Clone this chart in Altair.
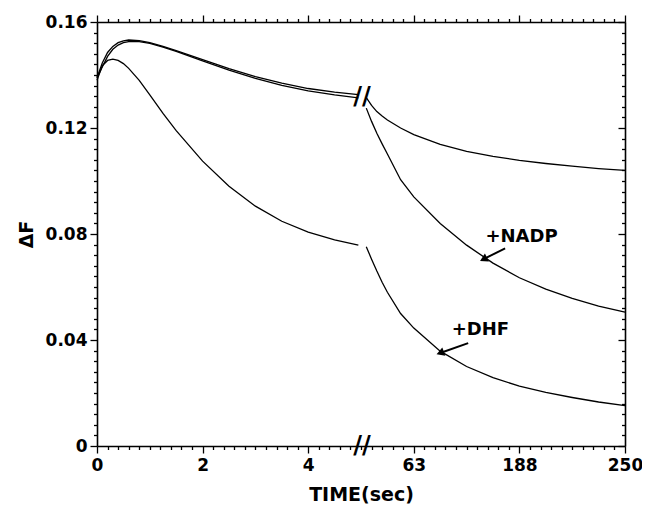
import altair as alt
import pandas as pd

# ---- data (x in display units: 0-5 = seconds, 6/8/10 = 63/188/250 s) ----
left_u = [0, 0.1, 0.2, 0.3, 0.4, 0.5, 0.6, 0.8, 1.0, 1.25, 1.5, 2.0, 2.5, 3.0, 3.5, 4.0, 4.5, 4.95]
ctrl1_left = [0.139, 0.1445, 0.1485, 0.1508, 0.1522, 0.1529, 0.1532, 0.1530, 0.1522, 0.1508, 0.1492,
              0.1458, 0.1424, 0.1394, 0.1369, 0.1349, 0.1335, 0.1326]
ctrl2_left = [0.139, 0.1430, 0.1470, 0.1497, 0.1513, 0.1522, 0.1526, 0.1526, 0.1519, 0.1505, 0.1489,
              0.1453, 0.1418, 0.1387, 0.1361, 0.1340, 0.1325, 0.1314]
low_left = [0.138, 0.1435, 0.1455, 0.1460, 0.1455, 0.1443, 0.1425, 0.1380, 0.1325, 0.1255, 0.1190,
            0.1075, 0.0980, 0.0905, 0.0848, 0.0807, 0.0778, 0.0758]

right_u = [5.1, 5.2, 5.3, 5.4, 5.5, 5.75, 6.0, 6.5, 7.0, 7.5, 8.0, 8.5, 9.0, 9.5, 10.0]
top_right = [0.1315, 0.1285, 0.1262, 0.1245, 0.1230, 0.1200, 0.1175, 0.1138, 0.1112, 0.1093, 0.1078,
             0.1066, 0.1056, 0.1047, 0.1040]
nadp_right = [0.1275, 0.1225, 0.1180, 0.1140, 0.1102, 0.1005, 0.0940, 0.0840, 0.0758, 0.0690, 0.0635,
              0.0592, 0.0557, 0.0528, 0.0505]
dhf_right = [0.0752, 0.0705, 0.0660, 0.0618, 0.0580, 0.0500, 0.0445, 0.0358, 0.0300, 0.0258, 0.0226,
             0.0202, 0.0183, 0.0166, 0.0152]

x_tick_pos = [0, 2, 4, 6, 8, 10]
x_tick_labels = ["0", "2", "4", "63", "188", "250"]
y_tick_pos = [0, 0.04, 0.08, 0.12, 0.16]
y_tick_labels = ["0", "0.04", "0.08", "0.12", "0.16"]

ann_text = ["+NADP", "+DHF"]
ann_u = [8.04, 7.26]
ann_v = [0.0788, 0.0437]
arrow_u0 = [7.73, 7.03]
arrow_v0 = [0.0746, 0.0388]
arrow_u1 = [7.32, 6.50]
arrow_v1 = [0.0705, 0.0351]
arrow_angle = [243, 250]

break_u = [5.02, 5.02]
break_v = [0.1318, 0.0]

# ---- tables ----
rows = []
for name, us, vs in [("c1", left_u, ctrl1_left), ("c2", left_u, ctrl2_left), ("low", left_u, low_left),
                     ("top", right_u, top_right), ("nadp", right_u, nadp_right), ("dhf", right_u, dhf_right)]:
    for u, v in zip(us, vs):
        rows.append({"curve": name, "u": u, "v": v})
df = pd.DataFrame(rows)

ann = pd.DataFrame({"t": ann_text, "u": ann_u, "v": ann_v, "u0": arrow_u0, "v0": arrow_v0,
                    "u1": arrow_u1, "v1": arrow_v1, "ang": arrow_angle})
brk = pd.DataFrame({"u": break_u, "v": break_v})

FONT = "DejaVu Sans"
W, H = 528, 424

x_minor = [round(i * 0.2, 1) for i in range(51)]
y_minor = [round(i * 0.004, 3) for i in range(41)]

x_major_test = "abs(datum.value/2 - round(datum.value/2)) < 0.001"
y_major_test = "abs(datum.value/0.04 - round(datum.value/0.04)) < 0.001"

x_label_expr = " : ".join(
    [f"abs(datum.value - {p}) < 0.001 ? '{l}'" for p, l in zip(x_tick_pos, x_tick_labels)]) + " : ''"
y_label_expr = " : ".join(
    [f"abs(datum.value - {p}) < 0.0001 ? '{l}'" for p, l in zip(y_tick_pos, y_tick_labels)]) + " : ''"

xs = alt.Scale(domain=[0, 10], nice=False, zero=False)
ys = alt.Scale(domain=[0, 0.16], nice=False, zero=True)

common = dict(domainColor="black", domainWidth=1.6, tickColor="black", tickWidth=1.3,
              grid=False, labelColor="black", labelFont=FONT, labelFontSize=17, labelFontWeight="bold",
              titleFont=FONT, titleFontSize=19, titleFontWeight="bold", titleColor="black")

x_bottom = alt.Axis(orient="bottom", values=x_minor, labelExpr=x_label_expr, labelFlush=False,
                    labelOverlap=False, labelPadding=4, title="TIME(sec)", titlePadding=12,
                    tickSize={"condition": {"test": x_major_test, "value": 7}, "value": 3.5}, **common)
y_left = alt.Axis(orient="left", values=y_minor, labelExpr=y_label_expr, labelOverlap=False,
                  labelPadding=3, title="ΔF", titlePadding=9,
                  tickSize={"condition": {"test": y_major_test, "value": 7}, "value": 3.5}, **common)
x_top = alt.Axis(orient="top", values=x_minor, labels=False, title=None,
                 tickSize={"condition": {"test": x_major_test, "value": 7}, "value": 3.5}, **common)
y_right = alt.Axis(orient="left", offset=-W, values=y_minor, labels=False, title=None,
                   tickSize={"condition": {"test": y_major_test, "value": 7}, "value": 3.5}, **common)

curves = alt.Chart(df).mark_line(color="black", strokeWidth=1.3).encode(
    x=alt.X("u:Q", scale=xs, axis=x_bottom),
    y=alt.Y("v:Q", scale=ys, axis=y_left),
    detail="curve:N", order="u:Q")

frame = alt.Chart(df).mark_line(opacity=0).encode(
    x=alt.X("u:Q", scale=xs, axis=x_top),
    y=alt.Y("v:Q", scale=ys, axis=y_right),
    detail="curve:N", order="u:Q")

texts = alt.Chart(ann).mark_text(font=FONT, fontSize=18, fontWeight="bold", color="black").encode(
    x=alt.X("u:Q", scale=xs, axis=None), y=alt.Y("v:Q", scale=ys, axis=None), text="t:N")

shafts = alt.Chart(ann).mark_rule(color="black", strokeWidth=2).encode(
    x=alt.X("u0:Q", scale=xs, axis=None), y=alt.Y("v0:Q", scale=ys, axis=None),
    x2="u1:Q", y2="v1:Q")

heads = alt.Chart(ann).mark_point(shape="triangle-up", filled=True, color="black", size=80, opacity=1).encode(
    x=alt.X("u1:Q", scale=xs, axis=None), y=alt.Y("v1:Q", scale=ys, axis=None),
    angle=alt.Angle("ang:Q", scale=None))

breaks = alt.Chart(brk).mark_text(text="//", font=FONT, fontSize=24, fontWeight="bold",
                                  color="black").encode(
    x=alt.X("u:Q", scale=xs, axis=None), y=alt.Y("v:Q", scale=ys, axis=None))

chart = alt.layer(curves, frame, shafts, heads, texts, breaks).resolve_axis(
    x="independent", y="independent"
).properties(
    width=W, height=H, autosize="none",
    padding={"left": 89, "top": 14, "right": 17, "bottom": 60},
    background="white"
).configure_view(stroke=None)

chart.save("out.html", embed_options={"renderer": "svg", "actions": False})
